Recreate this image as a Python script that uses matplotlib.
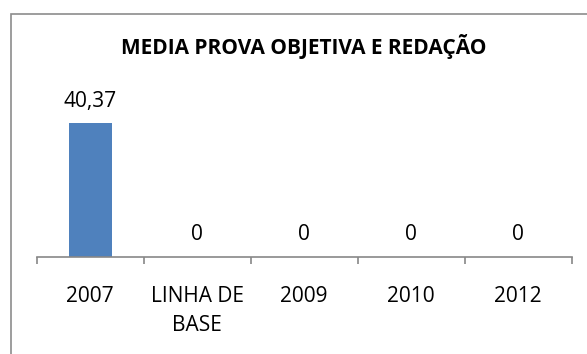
import matplotlib
matplotlib.use("Agg")
import matplotlib.pyplot as plt
from matplotlib.patches import Rectangle

categories = ["2007", "LINHA DE\nBASE", "2009", "2010", "2012"]
values = [40.37, 0, 0, 0, 0]
value_labels = ["40,37", "0", "0", "0", "0"]
title = "MEDIA PROVA OBJETIVA E REDAÇÃO"

W, H = 587, 354
PT = 72 / 100  # points per pixel at dpi 100
plt.rcParams["font.family"] = ["Open Sans", "DejaVu Sans"]

fig = plt.figure(figsize=(W / 100, H / 100), dpi=100)
fig.patch.set_facecolor("white")

# chart frame (runs off the right and bottom edges)
fig.patches.append(Rectangle((10.5 / W, -0.1), 1.2, 1 - 14.5 / H + 0.1,
                             transform=fig.transFigure, fill=False,
                             edgecolor="#8c8c8c", linewidth=1.2))

left, right = 36.7, 571.7
bottom, top = 256.7, 91.5
ax = fig.add_axes([left / W, 1 - bottom / H, (right - left) / W, (bottom - top) / H])
ax.set_xlim(-0.5, 4.5)
ax.set_ylim(0, 50)

ax.bar(range(len(values)), values, width=0.4, color="#4f81bd")
for i, (v, lab) in enumerate(zip(values, value_labels)):
    ax.annotate(lab, (i, v), xytext=(0, 16.5 * PT), textcoords="offset points",
                ha="center", va="baseline", fontsize=15, color="black")

for s in ["top", "right", "left"]:
    ax.spines[s].set_visible(False)
ax.spines["bottom"].set_color("#878787")
ax.spines["bottom"].set_linewidth(1.2)
ax.set_yticks([])

# category boundary ticks
ax.set_xticks([x - 0.5 for x in range(len(categories) + 1)])
ax.set_xticklabels([])
ax.tick_params(axis="x", direction="out", length=5, width=1.2, color="#878787")

# category names, one baseline per wrapped line
for i, c in enumerate(categories):
    for k, line in enumerate(c.split("\n")):
        ax.annotate(line, (i, 0), xycoords=("data", "axes fraction"),
                    xytext=(0, -(45.6 + 28.4 * k) * PT), textcoords="offset points",
                    ha="center", va="baseline", fontsize=15)

fig.text(304 / W, 1 - 54 / H, title, ha="center", va="baseline",
         fontsize=15, fontweight="bold")

fig.savefig("out.png", dpi=100)
